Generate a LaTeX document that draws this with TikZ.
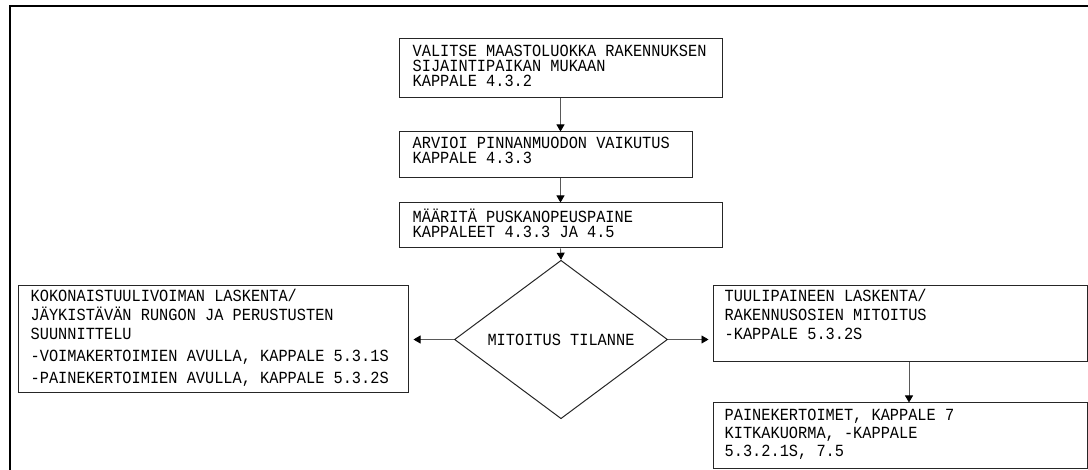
\documentclass[tikz,border=0pt]{standalone}
\usepackage{fontspec}
\setmonofont[FakeStretch=0.9]{Liberation Mono}
\usetikzlibrary{arrows.meta}
\usetikzlibrary{shapes.geometric}

\newcommand{\cadfont}[1]{\ttfamily\fontsize{17pt}{#1}\selectfont}

\begin{document}
\begin{tikzpicture}[x=1pt, y=-1pt,
    box/.style={draw=black!85, line width=1pt, inner sep=0pt},
    txt/.style={anchor=north west, inner sep=0pt, align=left, font={\cadfont{#1}},
      execute at begin node={\rule{0pt}{13pt}}},
    txt/.default=15pt,
    flow/.style={draw=black!65, line width=0.9pt, -{Triangle[length=7pt, width=8pt, color=black]}}
  ]
      \useasboundingbox (0,0) rectangle (1088,470);
      \draw[line width=2pt] (10,480) -- (10,6) -- (1100,6);

      \node[box, minimum width=323, minimum height=59] (b1) at (560.5,68.5) {};
      \node[box, minimum width=293, minimum height=46] (b2) at (545.5,155) {};
      \node[box, minimum width=323, minimum height=45] (b3) at (560.5,225.5) {};
      \node[box, diamond, minimum width=213, minimum height=98, font={\cadfont{15pt}}] (dia) at (561,339.5) {MITOITUS TILANNE};
      \node[box, minimum width=390, minimum height=107] (kok) at (213,339.5) {};
      \node[box, minimum width=374.5, minimum height=76] (tuu) at (900.25,324) {};
      \node[box, minimum width=374.5, minimum height=66] (pai) at (900.25,436) {};

      \node[txt] (t1) at ([shift={(14,6)}]b1.north west) {VALITSE MAASTOLUOKKA RAKENNUKSEN\\SIJAINTIPAIKAN MUKAAN\\KAPPALE 4.3.2};
      \node[txt] (t2) at ([shift={(14,5)}]b2.north west) {ARVIOI PINNANMUODON VAIKUTUS\\KAPPALE 4.3.3};
      \node[txt] (t3) at ([shift={(14,6)}]b3.north west) {MÄÄRITÄ PUSKANOPEUSPAINE\\KAPPALEET 4.3.3 JA 4.5};
      \node[txt=19pt] (t4) at ([shift={(13,3)}]kok.north west) {KOKONAISTUULIVOIMAN LASKENTA/\\JÄYKISTÄVÄN RUNGON JA PERUSTUSTEN\\SUUNNITTELU\\[3pt]-VOIMAKERTOIMIEN AVULLA, KAPPALE 5.3.1S\\[3pt]-PAINEKERTOIMIEN AVULLA, KAPPALE 5.3.2S};
      \node[txt=19pt] (t5) at ([shift={(12,3)}]tuu.north west) {TUULIPAINEEN LASKENTA/\\RAKENNUSOSIEN MITOITUS\\-KAPPALE 5.3.2S};
      \node[txt=18pt] (t6) at ([shift={(12,6)}]pai.north west) {PAINEKERTOIMET, KAPPALE 7\\KITKAKUORMA, -KAPPALE\\5.3.2.1S, 7.5};

      \draw[flow] (b1.south) -- (b1.south |- b2.north);
      \draw[flow] (b1.south |- b2.south) -- (b3.north);
      \draw[flow] (b3.south) -- (dia.north);
      \draw[flow, shorten >=5pt] (dia.west) -- (kok.east);
      \draw[flow, shorten >=4pt] (dia.east) -- (dia.east -| tuu.west);
      \draw[flow] ([xshift=8.75pt]tuu.south) -- ([xshift=8.75pt]tuu.south |- pai.north);
\end{tikzpicture}
\end{document}
